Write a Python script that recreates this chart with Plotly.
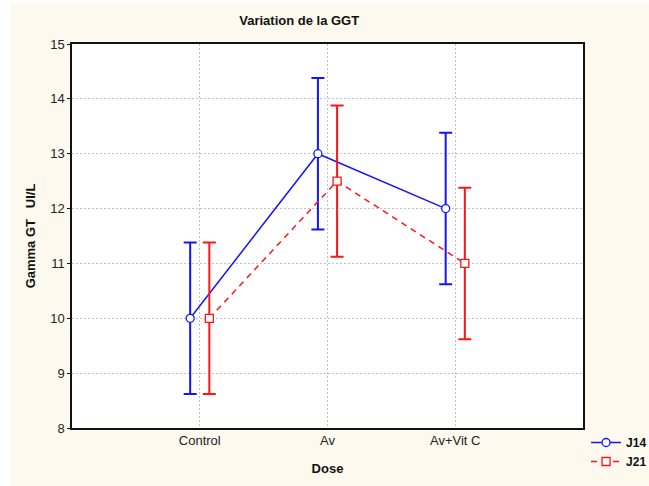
import plotly.graph_objects as go

# Group means and error half-widths for GGT (UI/L)
doses = ["Control", "Av", "Av+Vit C"]
j14_mean = [10.0, 13.0, 12.0]
j14_err = [1.38, 1.38, 1.38]
j21_mean = [10.0, 12.5, 11.0]
j21_err = [1.38, 1.38, 1.38]
y_ticks = [8, 9, 10, 11, 12, 13, 14, 15]

BLUE = "#1414FF"
RED = "#FF1414"
FONT = "Liberation Sans, Arial, sans-serif"
shift = 0.075  # horizontal dodge between the two series

pos = list(range(len(doses)))

fig = go.Figure()
fig.add_trace(go.Scatter(
    x=[p - shift for p in pos], y=j14_mean, name="<b>J14</b>",
    mode="lines+markers",
    line=dict(color=BLUE, width=1.5),
    marker=dict(symbol="circle", size=8, color="white",
                line=dict(color=BLUE, width=1.3)),
    error_y=dict(type="data", array=j14_err, color=BLUE, thickness=2, width=6.5),
))
fig.add_trace(go.Scatter(
    x=[p + shift for p in pos], y=j21_mean, name="<b>J21</b>",
    mode="lines+markers",
    line=dict(color=RED, width=1.5, dash="6px,5px"),
    marker=dict(symbol="square", size=8, color="white",
                line=dict(color=RED, width=1.3)),
    error_y=dict(type="data", array=j21_err, color=RED, thickness=2, width=6.5),
))

axis_common = dict(
    showline=True, mirror=True, linecolor="#111", linewidth=1.5,
    showgrid=True, gridcolor="#C2C2C2", griddash="2px,2px", gridwidth=1,
    zeroline=False,
    tickfont=dict(family=FONT, size=13, color="#222"),
)

fig.update_xaxes(
    range=[-1, 3], tickvals=pos, ticktext=doses, ticks="",
    title=dict(text="<b>Dose</b>", font=dict(family=FONT, size=13, color="#111"),
               standoff=17),
    **axis_common,
)
fig.update_yaxes(
    range=[8, 15], tickvals=y_ticks, ticks="outside", ticklen=3,
    tickcolor="#111",
    title=dict(text="<b>Gamma GT\u00a0\u00a0\u00a0UI/L</b>",
               font=dict(family=FONT, size=13, color="#111"), standoff=12),
    **axis_common,
)

fig.update_layout(
    width=649, height=486,
    margin=dict(l=72, r=66, t=44, b=58, autoexpand=False),
    paper_bgcolor="#FDF9EE",
    plot_bgcolor="white",
    title=dict(text="<b>Variation de la GGT</b>", xref="container", x=0.461,
               xanchor="center", yref="container", y=0.958, yanchor="middle",
               font=dict(family=FONT, size=13, color="#111")),
    showlegend=True,
    legend=dict(
        xref="paper", yref="paper", x=1.006, y=0.0,
        xanchor="left", yanchor="top",
        bgcolor="rgba(0,0,0,0)", borderwidth=0,
        font=dict(family=FONT, size=12, color="#111"),
        itemwidth=30, tracegroupgap=0,
    ),
    shapes=[
        # thin white strips along the left and top edges of the page
        dict(type="rect", xref="paper", yref="paper",
             x0=-72 / 511, x1=(11 - 72) / 511, y0=-58 / 384, y1=1 + 44 / 384,
             fillcolor="white", line=dict(width=0), layer="below"),
        dict(type="rect", xref="paper", yref="paper",
             x0=-72 / 511, x1=(649 - 72) / 511, y0=1 + (44 - 3) / 384, y1=1 + 44 / 384,
             fillcolor="white", line=dict(width=0), layer="below"),
    ],
)

fig.write_html("out.html")
